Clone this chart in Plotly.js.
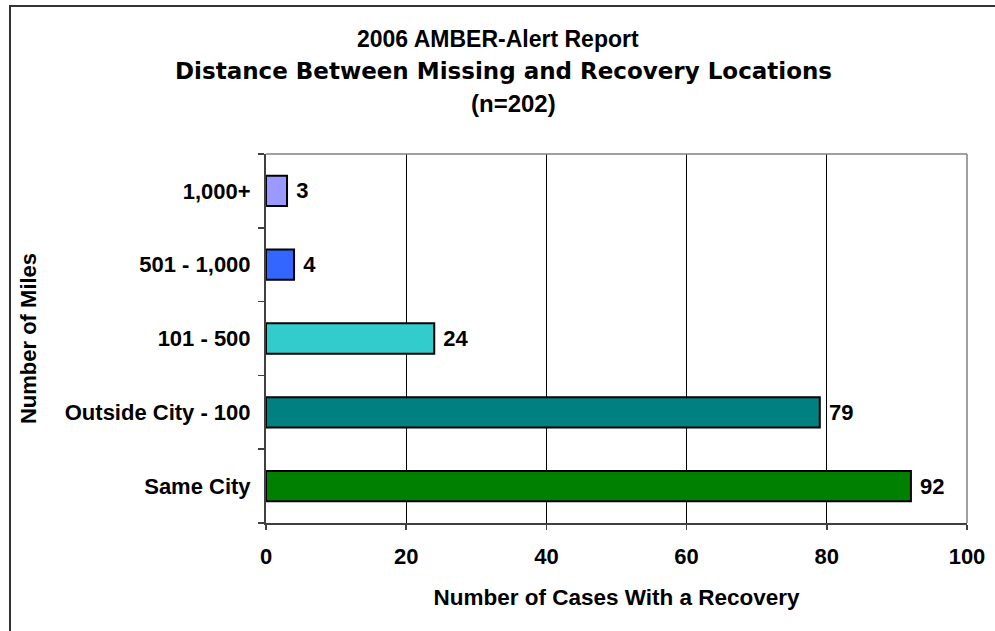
<!DOCTYPE html>
<html>
<head>
<meta charset="utf-8">
<script src="https://cdn.plot.ly/plotly-3.0.1.min.js"></script>
<style>
html,body{margin:0;padding:0;background:#fff;overflow:hidden;}
#wrap{position:relative;width:995px;height:631px;overflow:hidden;}
#chart{width:995px;height:631px;}
#frame{position:absolute;left:8.5px;top:4.5px;width:1100px;height:800px;border-left:2px solid #333;border-top:2px solid #333;pointer-events:none;}
</style>
</head>
<body>
<div id="wrap"><div id="chart"></div><div id="frame"></div></div>
<script>
// Data
const categories = ["Same City", "Outside City - 100", "101 - 500", "501 - 1,000", "1,000+"];
const cases = [92, 79, 24, 4, 3];
const barColors = ["#008000", "#008080", "#33CCCC", "#3366FF", "#9999FF"];
const xTickVals = [0, 20, 40, 60, 80, 100];
const titleLines = ["2006 AMBER-Alert Report", "Distance Between Missing and Recovery Locations", "(n=202)"];
const xTitle = "Number of Cases With a Recovery";
const yTitle = "Number of Miles";

const FONT = "Liberation Sans, Arial, sans-serif";

const trace = {
  type: "bar",
  orientation: "h",
  y: categories,
  x: cases,
  marker: { color: barColors, line: { color: "#000000", width: 2 } },
  text: cases.map(String),
  texttemplate: "\u00a0%{text}",
  textposition: "outside",
  cliponaxis: false,
  textfont: { family: FONT, size: 22, weight: "bold", color: "#000000" },
  hoverinfo: "none"
};

const layout = {
  width: 995,
  height: 631,
  paper_bgcolor: "#ffffff",
  plot_bgcolor: "#ffffff",
  margin: { l: 265.5, r: 27.5, t: 154, b: 108 },
  showlegend: false,
  bargap: 0.59,
  font: { family: FONT, size: 22, color: "#000000", weight: "bold" },
  xaxis: {
    range: [0, 100],
    tickvals: xTickVals,
    ticktext: xTickVals.map(String),
    showgrid: true,
    gridcolor: "#000000",
    gridwidth: 1,
    zeroline: false,
    showline: true,
    linecolor: "#404040",
    linewidth: 2,
    ticks: "outside",
    ticklen: 5,
    tickwidth: 1.5,
    tickcolor: "#404040",
    ticklabelstandoff: 8,
    tickfont: { family: FONT, size: 22, weight: "bold", color: "#000000" },
    title: { text: xTitle, font: { family: FONT, size: 22.5, weight: "bold", color: "#000000" }, standoff: 21 },
    automargin: false,
    fixedrange: true
  },
  yaxis: {
    type: "category",
    categoryorder: "array",
    categoryarray: categories,
    showgrid: false,
    zeroline: false,
    showline: true,
    linecolor: "#404040",
    linewidth: 2,
    ticks: "outside",
    tickson: "boundaries",
    ticklen: 6,
    tickwidth: 1.5,
    tickcolor: "#404040",
    ticklabelstandoff: 9,
    tickfont: { family: FONT, size: 22, weight: "bold", color: "#000000" },
    title: { text: yTitle, font: { family: FONT, size: 22, weight: "bold", color: "#000000" }, standoff: 22 },
    automargin: false,
    fixedrange: true
  },
  shapes: [
    // plot area top and right edges
    { type: "line", xref: "paper", yref: "paper", x0: 0, x1: 1, y0: 1, y1: 1,
      line: { color: "#808080", width: 1.5 }, layer: "above" },
    { type: "line", xref: "paper", yref: "paper", x0: 1, x1: 1, y0: 0, y1: 1,
      line: { color: "#808080", width: 1.5 }, layer: "above" }
  ],
  annotations: [
    { text: titleLines[0], xref: "paper", yref: "paper", x: 0.3305, y: 1.3103, xanchor: "center", yanchor: "middle",
      showarrow: false, font: { family: FONT, size: 23, weight: "bold", color: "#000000" } },
    { text: titleLines[1], xref: "paper", yref: "paper", x: 0.339, y: 1.2236, xanchor: "center", yanchor: "middle",
      showarrow: false, font: { family: "DejaVu Sans, sans-serif", size: 23, weight: "bold", color: "#000000" } },
    { text: titleLines[2], xref: "paper", yref: "paper", x: 0.3526, y: 1.1382, xanchor: "center", yanchor: "middle",
      showarrow: false, font: { family: FONT, size: 24, weight: "bold", color: "#000000" } }
  ]
};

Plotly.newPlot("chart", [trace], layout, { staticPlot: true, displayModeBar: false });
</script>
</body>
</html>
